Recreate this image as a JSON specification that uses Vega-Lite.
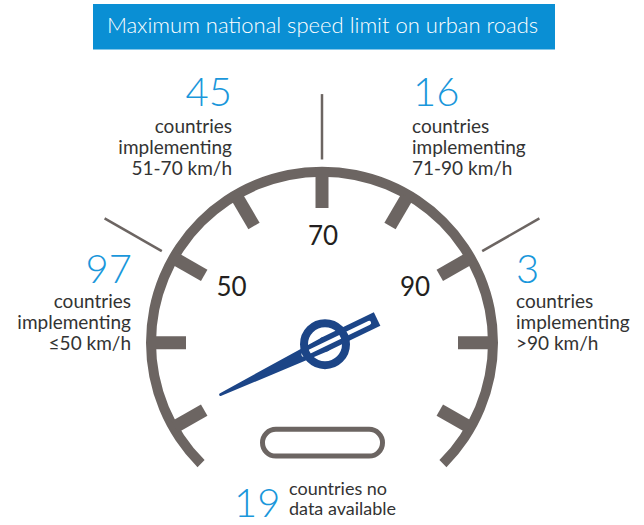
{
  "$schema": "https://vega.github.io/schema/vega-lite/v6.json",
  "width": 644,
  "height": 525,
  "autosize": {"type": "fit", "contains": "padding"},
  "padding": 0,
  "background": "white",
  "config": {"view": {"stroke": null}, "font": "Lato"},
  "datasets": {
    "center": [{"x": 0, "y": 0}],
    "titlebox": [{"x": -229, "x2": 233, "y": 342, "y2": 296, "label": "Maximum national speed limit on urban roads", "tx": 0.5, "ty": 313}],
    "spokes": [
      {"kmh": 50, "x": -160.2, "y": 92.5, "x2": -217.4, "y2": 125.5},
      {"kmh": 70, "x": 0, "y": 185, "x2": 0, "y2": 251},
      {"kmh": 90, "x": 160.2, "y": 92.5, "x2": 217.4, "y2": 125.5}
    ],
    "ticks": [
      {"x": -147.2, "y": -85, "x2": -117.8, "y2": -68},
      {"x": -170, "y": 0, "x2": -136, "y2": 0},
      {"x": -147.2, "y": 85, "x2": -117.8, "y2": 68},
      {"x": -85, "y": 147.2, "x2": -68, "y2": 117.8},
      {"x": 0, "y": 170, "x2": 0, "y2": 136},
      {"x": 85, "y": 147.2, "x2": 68, "y2": 117.8},
      {"x": 147.2, "y": 85, "x2": 117.8, "y2": 68},
      {"x": 170, "y": 0, "x2": 136, "y2": 0},
      {"x": 147.2, "y": -85, "x2": 117.8, "y2": -68}
    ],
    "dial": [
      {"label": "50", "x": -90.5, "y": 47},
      {"label": "70", "x": 1, "y": 99},
      {"label": "90", "x": 93, "y": 47}
    ],
    "odometer": [{"x": -59.5, "x2": 60.5, "y": -87.5, "y2": -114.5}],
    "needle": [
      {"t": -116, "x": -101.3, "y": -52.3},
      {"t": 0, "x": 3, "y": -1.5}
    ],
    "tail": [
      {"t": -2, "x": 1.2, "y": -2.4},
      {"t": 58, "x": 55.1, "y": 23.9}
    ],
    "slot": [
      {"t": -24, "x": -18.6, "y": -12.0},
      {"t": 49, "x": 47.1, "y": 20.0}
    ],
    "hub": [{"x": 3, "y": -1.5}],
    "annotations": [
      {"text": "45", "kind": "num", "side": "R", "x": -90, "y": 239},
      {"text": "countries\nimplementing\n51-70 km/h", "kind": "cap", "side": "R", "x": -90, "y": 212},
      {"text": "16", "kind": "num", "side": "L", "x": 91, "y": 239},
      {"text": "countries\nimplementing\n71-90 km/h", "kind": "cap", "side": "L", "x": 90, "y": 212},
      {"text": "97", "kind": "num", "side": "R", "x": -190, "y": 60},
      {"text": "countries\nimplementing\n≤50 km/h", "kind": "cap", "side": "R", "x": -191, "y": 35},
      {"text": "3", "kind": "num", "side": "L", "x": 194, "y": 60},
      {"text": "countries\nimplementing\n>90 km/h", "kind": "cap", "side": "L", "x": 194, "y": 35},
      {"text": "19", "kind": "num", "side": "L", "x": -88, "y": -176},
      {"text": "countries no\ndata available", "kind": "note", "side": "L", "x": -33, "y": -154}
    ]
  },
  "encoding": {
    "x": {"field": "x", "type": "quantitative", "scale": {"domain": [-322, 322], "nice": false, "zero": false}, "axis": null},
    "y": {"field": "y", "type": "quantitative", "scale": {"domain": [-179, 346], "nice": false, "zero": false}, "axis": null}
  },
  "layer": [
    {
      "data": {"name": "titlebox"},
      "mark": {"type": "rect", "color": "#0a8fd4"},
      "encoding": {"x2": {"field": "x2"}, "y2": {"field": "y2"}}
    },
    {
      "data": {"name": "titlebox"},
      "mark": {"type": "text", "color": "white", "fontSize": 22, "fontWeight": 300, "align": "center", "baseline": "alphabetic"},
      "encoding": {
        "x": {"field": "tx", "type": "quantitative"},
        "y": {"field": "ty", "type": "quantitative"},
        "text": {"field": "label"}
      }
    },
    {
      "data": {"name": "spokes"},
      "mark": {"type": "rule", "color": "#6c6562", "strokeWidth": 2.5},
      "encoding": {"x2": {"field": "x2"}, "y2": {"field": "y2"}}
    },
    {
      "data": {"name": "center"},
      "mark": {"type": "arc", "theta": -2.356, "theta2": 2.356, "innerRadius": 166, "outerRadius": 176, "color": "#6c6562"}
    },
    {
      "data": {"name": "ticks"},
      "mark": {"type": "rule", "color": "#6c6562", "strokeWidth": 13, "strokeCap": "butt"},
      "encoding": {"x2": {"field": "x2"}, "y2": {"field": "y2"}}
    },
    {
      "data": {"name": "dial"},
      "mark": {"type": "text", "color": "#231f20", "fontSize": 26, "align": "center", "baseline": "alphabetic"},
      "encoding": {"text": {"field": "label"}}
    },
    {
      "data": {"name": "odometer"},
      "mark": {"type": "rect", "filled": false, "color": "#6c6562", "strokeWidth": 5, "cornerRadius": 13.5},
      "encoding": {"x2": {"field": "x2"}, "y2": {"field": "y2"}}
    },
    {
      "data": {"name": "needle"},
      "mark": {"type": "trail", "color": "#1c4587"},
      "encoding": {
        "order": {"field": "t", "type": "quantitative"},
        "size": {"field": "t", "type": "quantitative", "scale": {"domain": [-116, 0], "range": [3, 15]}, "legend": null}
      }
    },
    {
      "data": {"name": "tail"},
      "mark": {"type": "line", "color": "#1c4587", "strokeWidth": 15, "strokeCap": "butt"},
      "encoding": {"order": {"field": "t", "type": "quantitative"}}
    },
    {
      "data": {"name": "slot"},
      "mark": {"type": "line", "color": "white", "strokeWidth": 4, "strokeCap": "round"},
      "encoding": {"order": {"field": "t", "type": "quantitative"}}
    },
    {
      "data": {"name": "hub"},
      "mark": {"type": "point", "shape": "circle", "filled": false, "size": 1764, "strokeWidth": 8, "color": "#1c4587", "opacity": 1}
    },
    {
      "data": {"name": "annotations"},
      "transform": [{"filter": "datum.kind === 'num' && datum.side === 'R'"}],
      "mark": {"type": "text", "color": "#1a97db", "fontSize": 40, "fontWeight": 300, "align": "right", "baseline": "alphabetic"},
      "encoding": {"text": {"field": "text"}}
    },
    {
      "data": {"name": "annotations"},
      "transform": [{"filter": "datum.kind === 'num' && datum.side === 'L'"}],
      "mark": {"type": "text", "color": "#1a97db", "fontSize": 40, "fontWeight": 300, "align": "left", "baseline": "alphabetic"},
      "encoding": {"text": {"field": "text"}}
    },
    {
      "data": {"name": "annotations"},
      "transform": [{"filter": "datum.kind === 'cap' && datum.side === 'R'"}],
      "mark": {"type": "text", "color": "#333333", "fontSize": 19, "align": "right", "baseline": "alphabetic", "lineBreak": "\n", "lineHeight": 21},
      "encoding": {"text": {"field": "text"}}
    },
    {
      "data": {"name": "annotations"},
      "transform": [{"filter": "datum.kind === 'cap' && datum.side === 'L'"}],
      "mark": {"type": "text", "color": "#333333", "fontSize": 19, "align": "left", "baseline": "alphabetic", "lineBreak": "\n", "lineHeight": 21},
      "encoding": {"text": {"field": "text"}}
    },
    {
      "data": {"name": "annotations"},
      "transform": [{"filter": "datum.kind === 'note'"}],
      "mark": {"type": "text", "color": "#333333", "fontSize": 18, "align": "left", "baseline": "alphabetic", "lineBreak": "\n", "lineHeight": 20},
      "encoding": {"text": {"field": "text"}}
    }
  ]
}
